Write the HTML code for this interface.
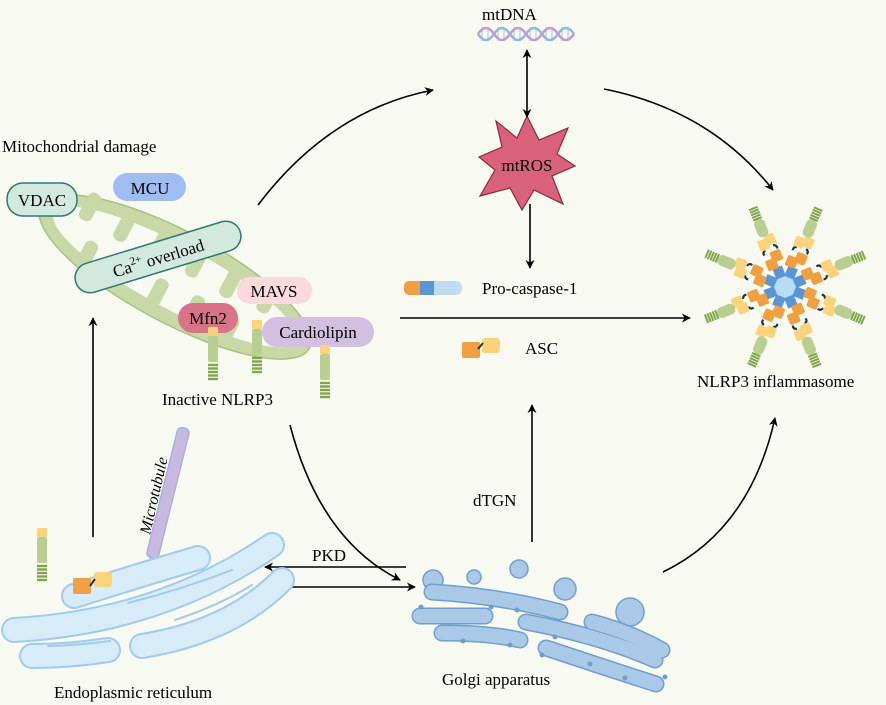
<!DOCTYPE html>
<html><head><meta charset="utf-8"><style>
html,body{margin:0;padding:0;background:#f8faf1;}
svg{display:block;font-family:"Liberation Serif",serif;}
</style></head><body>
<svg width="886" height="705" viewBox="0 0 886 705" xmlns="http://www.w3.org/2000/svg">
<defs>
<marker id="ah" viewBox="0 0 10 10" refX="9" refY="5" markerWidth="9" markerHeight="9" orient="auto-start-reverse" markerUnits="userSpaceOnUse">
<path d="M0,0 L10,5 L0,10 L3,5 z" fill="#000"/></marker>
<g id="spoke">
<rect x="11" y="-5.5" width="12" height="11" fill="#5b95d6"/>
<rect x="22" y="-10" width="12" height="12" rx="2" fill="#f0a040"/>
<rect x="29" y="-2" width="12" height="12" rx="2" fill="#f0a040"/>
<path d="M40,-8 q4,-1 5,3" stroke="#1a3550" stroke-width="2.4" fill="none"/>
<path d="M42,8 q4,1 5,-3" stroke="#1a3550" stroke-width="2.4" fill="none"/>
<rect x="45" y="-10" width="12" height="11" rx="2" fill="#fbd37a"/>
<rect x="48" y="-1" width="12" height="11" rx="2" fill="#fbd37a"/>
<rect x="59" y="-6" width="20" height="12" rx="5" fill="#b9cf92"/>
<g stroke="#7fa64a" stroke-width="2.2">
<line x1="80" y1="-5" x2="80" y2="5"/><line x1="83" y1="-5" x2="83" y2="5"/><line x1="86" y1="-5" x2="86" y2="5"/><line x1="89" y1="-5" x2="89" y2="5"/><line x1="92" y1="-5" x2="92" y2="5"/></g>
</g>
<g id="nl">
<rect x="-5" y="0" width="10" height="9" rx="1.5" fill="#fbd37a"/>
<rect x="-5" y="9" width="10" height="26" rx="2" fill="#b9cf92"/>
<g stroke="#7fa64a" stroke-width="2.4"><line x1="-5" y1="38" x2="5" y2="38"/><line x1="-5" y1="41.5" x2="5" y2="41.5"/><line x1="-5" y1="45" x2="5" y2="45"/><line x1="-5" y1="48.5" x2="5" y2="48.5"/><line x1="-5" y1="52" x2="5" y2="52"/></g>
</g>
</defs>

<text x="482" y="20" font-size="17">mtDNA</text>
<text x="2" y="152" font-size="17">Mitochondrial damage</text>
<text x="162" y="405" font-size="17">Inactive NLRP3</text>
<text x="482" y="294" font-size="17">Pro-caspase-1</text>
<text x="525" y="354" font-size="17">ASC</text>
<text x="697" y="387" font-size="17">NLRP3 inflammasome</text>
<text x="473" y="506" font-size="17">dTGN</text>
<text x="312" y="561" font-size="17">PKD</text>
<text x="442" y="685" font-size="17">Golgi apparatus</text>
<text x="54" y="698" font-size="17">Endoplasmic reticulum</text>

<g stroke-width="1.2" stroke="#b9c6e6">
<line x1="482" y1="27" x2="482" y2="41"/><line x1="488" y1="27" x2="488" y2="41"/><line x1="498" y1="27" x2="498" y2="41"/><line x1="504" y1="27" x2="504" y2="41"/><line x1="514" y1="27" x2="514" y2="41"/><line x1="520" y1="27" x2="520" y2="41"/><line x1="530" y1="27" x2="530" y2="41"/><line x1="536" y1="27" x2="536" y2="41"/><line x1="546" y1="27" x2="546" y2="41"/><line x1="552" y1="27" x2="552" y2="41"/><line x1="562" y1="27" x2="562" y2="41"/><line x1="568" y1="27" x2="568" y2="41"/>
</g>
<g stroke-width="2.5" fill="none">
<path d="M478,34 q8,12 16,0 q8,-12 16,0 q8,12 16,0 q8,-12 16,0 q8,12 16,0 q8,-12 16,0" stroke="#8fb8e8"/>
<path d="M478,34 q8,-12 16,0 q8,12 16,0 q8,-12 16,0 q8,12 16,0 q8,-12 16,0 q8,12 16,0" stroke="#c59ad0"/>
</g>

<polygon points="527,116 539,140 568,128 557,154 575,166 552,176 563,204 534,190 522,210 510,188 480,196 495,170 479,157 502,147 496,121 517,138" fill="#d9627a" stroke="#8a2a3a" stroke-width="1.2"/>
<text x="527" y="171" font-size="17" text-anchor="middle">mtROS</text>

<g stroke="#000" stroke-width="1.6" fill="none">
<line x1="527" y1="50" x2="527" y2="117" marker-start="url(#ah)" marker-end="url(#ah)"/>
<line x1="530" y1="204" x2="530" y2="268" marker-end="url(#ah)"/>
<path d="M258,205 Q330,110 433,90" marker-end="url(#ah)"/>
<path d="M604,89 Q710,110 773,190" marker-end="url(#ah)"/>
<line x1="400" y1="318" x2="690" y2="318" marker-end="url(#ah)"/>
<path d="M290,425 Q320,540 400,580" marker-end="url(#ah)"/>
<line x1="532" y1="542" x2="532" y2="405" marker-end="url(#ah)"/>
<path d="M663,572 Q750,530 775,418" marker-end="url(#ah)"/>
<line x1="93" y1="537" x2="93" y2="318" marker-end="url(#ah)"/>
<line x1="94" y1="208" x2="94" y2="244" marker-end="url(#ah)"/>
<line x1="406" y1="567" x2="265" y2="567" marker-end="url(#ah)"/>
<line x1="272" y1="587" x2="415" y2="587" marker-end="url(#ah)"/>
</g>

<g transform="rotate(28 175 277)">
<ellipse cx="175" cy="277" rx="152" ry="46" fill="#c8d8a6" stroke="#a9c07e" stroke-width="1.5"/>
<ellipse cx="175" cy="277" rx="137" ry="32" fill="#f8faf1"/>
<g fill="#c8d8a6">
<rect x="60" y="240" width="14" height="30" rx="6"/><rect x="100" y="240" width="14" height="32" rx="6"/>
<rect x="140" y="240" width="14" height="30" rx="6"/><rect x="180" y="240" width="14" height="30" rx="6"/>
<rect x="220" y="240" width="14" height="32" rx="6"/><rect x="260" y="240" width="14" height="28" rx="6"/>
<rect x="80" y="284" width="14" height="30" rx="6"/><rect x="120" y="282" width="14" height="32" rx="6"/>
<rect x="160" y="284" width="14" height="30" rx="6"/><rect x="200" y="282" width="14" height="32" rx="6"/>
<rect x="240" y="284" width="14" height="30" rx="6"/>
</g>
</g>
<g font-size="17">
<rect x="7" y="183" width="70" height="33" rx="16" fill="#d3e9e0" stroke="#2c7a70" stroke-width="1.5"/>
<text x="42" y="206" text-anchor="middle">VDAC</text>
<rect x="113" y="173" width="73" height="28" rx="14" fill="#9fbdf0"/>
<text x="150" y="194" text-anchor="middle">MCU</text>
<g transform="rotate(-17 158 257)">
<rect x="72" y="242" width="172" height="30" rx="15" fill="#d3e9e0" stroke="#2c7a70" stroke-width="1.5"/>
<text x="158" y="264" text-anchor="middle">Ca<tspan font-size="11" dy="-7">2+</tspan><tspan dy="7"> overload</tspan></text>
</g>
<rect x="237" y="277" width="75" height="27" rx="13" fill="#fadadd"/>
<text x="274" y="297" text-anchor="middle">MAVS</text>
<rect x="178" y="303" width="60" height="30" rx="15" fill="#d97388"/>
<text x="208" y="324" text-anchor="middle">Mfn2</text>
<rect x="262" y="317" width="112" height="30" rx="15" fill="#d3bfe0"/>
<text x="318" y="338" text-anchor="middle">Cardiolipin</text>
</g>
<use href="#nl" x="213" y="327"/>
<use href="#nl" x="257" y="320"/>
<use href="#nl" x="325" y="345"/>

<rect x="404" y="281" width="58" height="14" rx="6" fill="#bfdcf4"/>
<rect x="404" y="281" width="20" height="14" rx="5" fill="#f0a040"/>
<rect x="420" y="281" width="14" height="14" fill="#5b95d6"/>
<rect x="462" y="342" width="18" height="16" rx="2" fill="#f0a040"/>
<rect x="482" y="338" width="18" height="15" rx="3" fill="#fbd37a"/>
<path d="M478,349 l5,-6" stroke="#1a3550" stroke-width="2"/>

<g transform="translate(785,287) scale(0.92)">
<circle r="15" fill="#b8dcf4"/>
<use href="#spoke" transform="rotate(-112)"/>
<use href="#spoke" transform="rotate(-67)"/>
<use href="#spoke" transform="rotate(-22)"/>
<use href="#spoke" transform="rotate(23)"/>
<use href="#spoke" transform="rotate(68)"/>
<use href="#spoke" transform="rotate(113)"/>
<use href="#spoke" transform="rotate(158)"/>
<use href="#spoke" transform="rotate(203)"/>
</g>

<g transform="rotate(14 168 493)">
<rect x="162" y="426" width="12" height="134" rx="5" fill="#d2b4dc" stroke="#9fb5e0" stroke-width="1.5"/>
<line x1="168" y1="428" x2="168" y2="558" stroke="#a9c6ee" stroke-width="3" stroke-dasharray="3 2"/>
</g>
<text transform="translate(150,535) rotate(-77)" font-size="16" font-style="italic">Microtubule</text>

<g fill="none" stroke-linecap="round">
<g stroke="#9fcbf0" stroke-width="26">
<path d="M74,596 Q140,575 198,558"/>
<path d="M14,630 Q160,622 272,545"/>
<path d="M142,646 Q230,632 282,580"/>
<path d="M32,656 Q70,656 108,650"/>
</g>
<g stroke="#d8ebf9" stroke-width="22">
<path d="M74,596 Q140,575 198,558"/>
<path d="M14,630 Q160,622 272,545"/>
<path d="M142,646 Q230,632 282,580"/>
<path d="M32,656 Q70,656 108,650"/>
</g>
<g stroke="#9fcbf0" stroke-width="2">
<path d="M128,603 Q180,590 232,570"/>
<path d="M175,620 Q220,605 252,585"/>
<path d="M48,646 Q80,645 110,641"/>
</g>
</g>
<use href="#nl" x="42" y="528"/>
<rect x="73" y="578" width="18" height="16" rx="2" fill="#f0a040"/>
<rect x="94" y="572" width="18" height="15" rx="3" fill="#fbd37a"/>
<path d="M90,586 l5,-7" stroke="#1a3550" stroke-width="2"/>

<g fill="#aac9e6" stroke="#6f9fcf" stroke-width="1.5">
<circle cx="433" cy="580" r="10"/>
<circle cx="474" cy="577" r="7"/>
<circle cx="519" cy="569" r="9"/>
<circle cx="565" cy="589" r="11"/>
<circle cx="630" cy="612" r="14"/>
</g>
<g fill="none" stroke-linecap="round">
<g stroke="#6f9fcf" stroke-width="17">
<path d="M432,592 Q500,596 560,612"/>
<path d="M420,616 L485,616"/>
<path d="M442,633 Q490,633 520,640"/>
<path d="M526,622 Q600,636 655,660"/>
<path d="M546,648 Q600,666 656,684"/>
<path d="M592,622 Q630,632 662,650"/>
</g>
<g stroke="#aac9e6" stroke-width="14">
<path d="M432,592 Q500,596 560,612"/>
<path d="M420,616 L485,616"/>
<path d="M442,633 Q490,633 520,640"/>
<path d="M526,622 Q600,636 655,660"/>
<path d="M546,648 Q600,666 656,684"/>
<path d="M592,622 Q630,632 662,650"/>
</g>
</g>
<g fill="#6f9fcf">
<circle cx="421" cy="607" r="2.5"/><circle cx="491" cy="607" r="2.5"/><circle cx="517" cy="610" r="2.5"/>
<circle cx="463" cy="641" r="2.5"/><circle cx="510" cy="645" r="2.5"/><circle cx="555" cy="637" r="2.5"/>
<circle cx="542" cy="655" r="2.5"/><circle cx="590" cy="664" r="2.5"/><circle cx="625" cy="678" r="2.5"/><circle cx="665" cy="677" r="2.5"/>
</g>
</svg>
</body></html>
